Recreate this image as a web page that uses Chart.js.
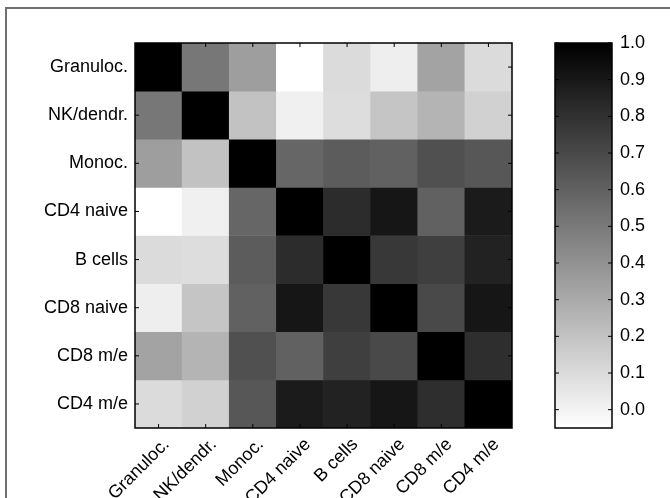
<!DOCTYPE html>
<html>
<head>
<meta charset="utf-8">
<script src="https://cdn.jsdelivr.net/npm/chart.js@4.4.0/dist/chart.umd.min.js"></script>
<style>
  body { margin: 0; background: #fff; }
  #wrap { position: relative; width: 670px; height: 498px; overflow: hidden; }
  #frame { position: absolute; left: 5px; top: 7px; width: 700px; height: 520px;
           border-left: 2px solid #707070; border-top: 2px solid #707070; }
  #heat { position: absolute; left: 0; top: 0; }
  #bar { position: absolute; left: 540px; top: 0; }
</style>
</head>
<body>
<div id="wrap">
  <div id="frame"></div>
  <canvas id="heat" width="670" height="498"></canvas>
  <canvas id="bar" width="130" height="498"></canvas>
</div>
<script>
// cell types, in the order of rows (top to bottom) and columns (left to right)
const cells = ["Granuloc.", "NK/dendr.", "Monoc.", "CD4 naive", "B cells", "CD8 naive", "CD8 m/e", "CD4 m/e"];

// correlation rows
const granuloc = [1.00, 0.51, 0.35, -0.05, 0.10, 0.02, 0.33, 0.10];
const nkDendr  = [0.51, 1.00, 0.20, 0.01, 0.09, 0.19, 0.26, 0.14];
const monoc    = [0.35, 0.20, 1.00, 0.58, 0.62, 0.60, 0.67, 0.64];
const cd4Naive = [-0.05, 0.01, 0.58, 1.00, 0.82, 0.91, 0.60, 0.89];
const bCells   = [0.10, 0.09, 0.62, 0.82, 1.00, 0.77, 0.74, 0.86];
const cd8Naive = [0.02, 0.19, 0.60, 0.91, 0.77, 1.00, 0.70, 0.91];
const cd8Me    = [0.33, 0.26, 0.67, 0.60, 0.74, 0.70, 1.00, 0.81];
const cd4Me    = [0.10, 0.14, 0.64, 0.89, 0.86, 0.91, 0.81, 1.00];
const matrix = [granuloc, nkDendr, monoc, cd4Naive, bCells, cd8Naive, cd8Me, cd4Me];

// colour bar range and tick labels
const vmin = -0.05;
const vmax = 1.0;
const barTicks = [0.0, 0.1, 0.2, 0.3, 0.4, 0.5, 0.6, 0.7, 0.8, 0.9, 1.0];

Chart.defaults.font.family = "'Liberation Sans', Arial, sans-serif";
Chart.defaults.font.size = 18;
Chart.defaults.color = "#000";

function gray(v) {
  const g = Math.round(255 * (1 - (v - vmin) / (vmax - vmin)));
  return `rgb(${g},${g},${g})`;
}

// black box around the plot area plus small inward tick marks
const frameTicks = {
  id: "frameTicks",
  afterDatasetsDraw(chart, args, opts) {
    const { ctx, chartArea: a } = chart;
    const len = 4;
    ctx.save();
    ctx.strokeStyle = "#000";
    ctx.lineWidth = 1;
    ctx.beginPath();
    if (opts.x) {
      const xs = chart.scales.x;
      xs.ticks.forEach((t, i) => {
        const p = xs.getPixelForTick(i);
        ctx.moveTo(p, a.top); ctx.lineTo(p, a.top + len);
        ctx.moveTo(p, a.bottom); ctx.lineTo(p, a.bottom - len);
      });
    }
    const ys = chart.scales.y;
    ys.ticks.forEach((t, i) => {
      const p = ys.getPixelForTick(i);
      ctx.moveTo(a.left, p); ctx.lineTo(a.left + len, p);
      ctx.moveTo(a.right, p); ctx.lineTo(a.right - len, p);
    });
    ctx.stroke();
    ctx.lineWidth = 1.5;
    ctx.strokeRect(a.left, a.top, a.right - a.left, a.bottom - a.top);
    ctx.restore();
  }
};

new Chart(document.getElementById("heat"), {
  type: "bar",
  data: {
    labels: cells,
    datasets: matrix.map((row, i) => ({
      label: cells[i],
      data: row.map(() => [i, i + 1]),
      backgroundColor: row.map(gray),
      borderWidth: 0,
      grouped: false,
      barPercentage: 1,
      categoryPercentage: 1
    }))
  },
  options: {
    responsive: false,
    animation: false,
    layout: { padding: { top: 43, right: 158, left: 0, bottom: 0 } },
    plugins: { legend: { display: false }, tooltip: { enabled: false }, frameTicks: { x: true } },
    scales: {
      x: {
        grid: { display: false, drawTicks: false },
        border: { display: false },
        ticks: { maxRotation: 45, minRotation: 45, padding: 6, labelOffset: 8 },
        afterFit: (s) => { s.height = 70; }
      },
      y: {
        type: "linear",
        min: 0,
        max: 8,
        reverse: true,
        grid: { display: false, drawTicks: false },
        border: { display: false },
        afterBuildTicks: (s) => { s.ticks = cells.map((c, i) => ({ value: i + 0.5 })); },
        ticks: { padding: 7, callback: (v, i) => cells[i] },
        afterFit: (s) => { s.width = 135; }
      }
    }
  },
  plugins: [frameTicks]
});

new Chart(document.getElementById("bar"), {
  type: "bar",
  data: {
    labels: [""],
    datasets: [{
      data: [[vmin, vmax]],
      backgroundColor: (c) => {
        const chart = c.chart;
        if (!chart.chartArea) return "#888";
        const y = chart.scales.y;
        const g = chart.ctx.createLinearGradient(0, y.getPixelForValue(vmin), 0, y.getPixelForValue(vmax));
        g.addColorStop(0, gray(vmin));
        g.addColorStop(1, gray(vmax));
        return g;
      },
      borderWidth: 0,
      barPercentage: 1,
      categoryPercentage: 1
    }]
  },
  options: {
    responsive: false,
    animation: false,
    layout: { padding: { top: 43, left: 15, right: 0, bottom: 70 } },
    plugins: { legend: { display: false }, tooltip: { enabled: false }, frameTicks: { x: false } },
    scales: {
      x: { display: false },
      y: {
        position: "right",
        min: vmin,
        max: vmax,
        grid: { display: false, drawTicks: false },
        border: { display: false },
        afterBuildTicks: (s) => { s.ticks = barTicks.map((v) => ({ value: v })); },
        ticks: { padding: 8, callback: (v) => v.toFixed(1) },
        afterFit: (s) => { s.width = 58; }
      }
    }
  },
  plugins: [frameTicks]
});
</script>
</body>
</html>
